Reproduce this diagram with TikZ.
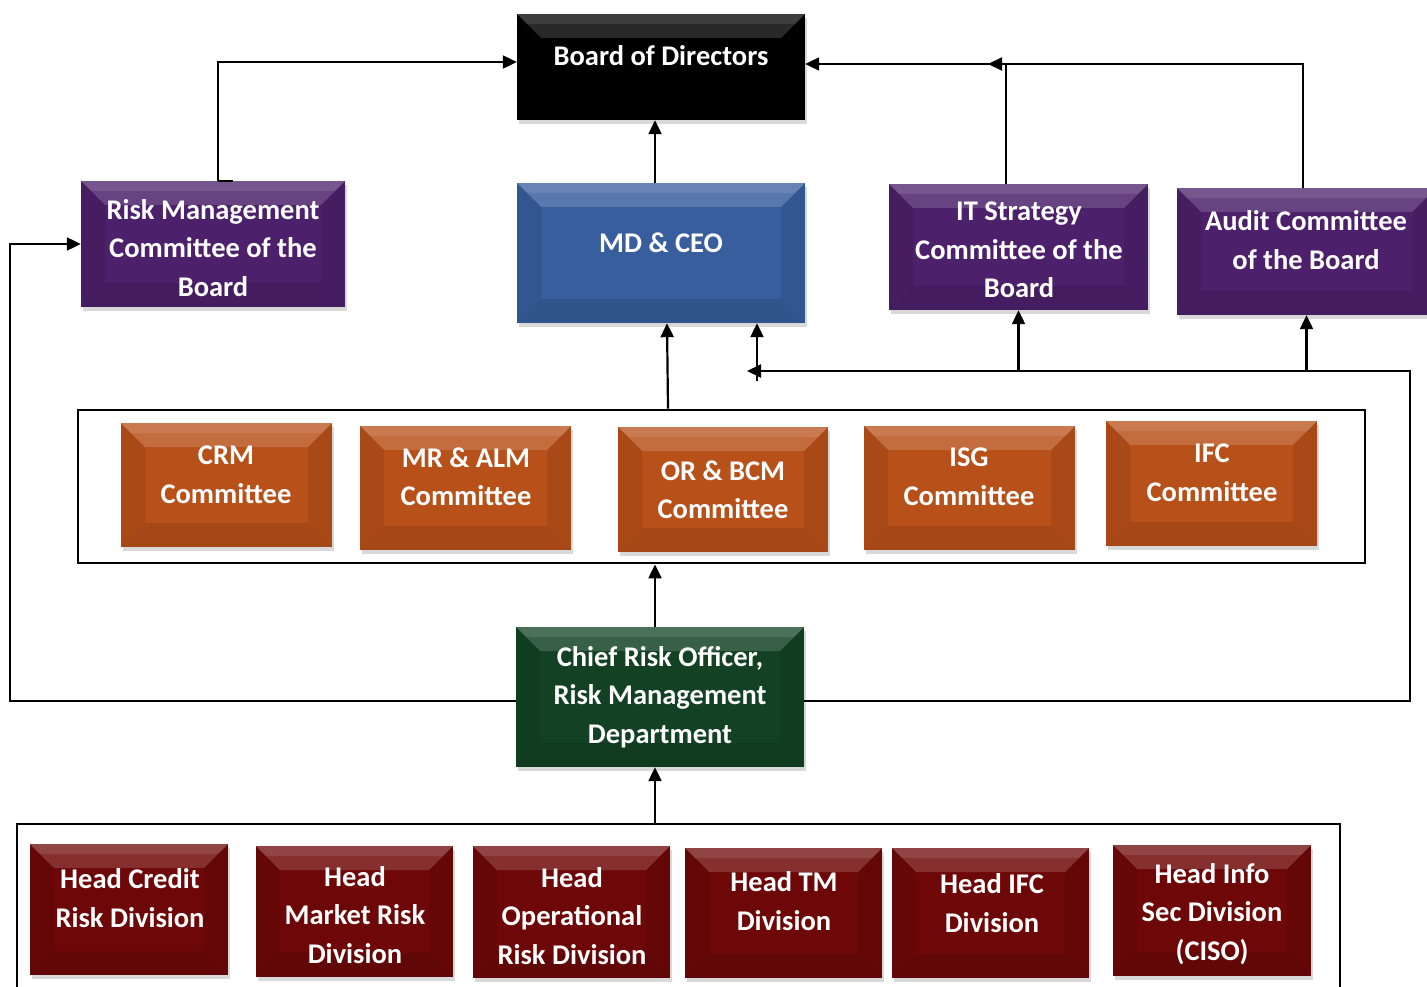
\documentclass[tikz,border=0pt]{standalone}
\usepackage{fontspec}
\setmainfont{Carlito}
\usetikzlibrary{arrows.meta,shadows}
\definecolor{cpurple}{RGB}{76,32,106}
\definecolor{cblue}{RGB}{56,94,158}
\definecolor{corange}{RGB}{184,80,26}
\definecolor{cgreen}{RGB}{18,66,35}
\definecolor{cred}{RGB}{110,8,8}
\definecolor{cblack}{RGB}{0,0,0}
\tikzset{
  bev/.style={draw=none, inner sep=0pt,
    drop shadow={shadow xshift=2pt, shadow yshift=-4pt, opacity=0.3},
    path picture={
      \fill[white,opacity=0.16] (path picture bounding box.north west) -- (path picture bounding box.north east) -- ([shift={(-24pt,-24pt)}]path picture bounding box.north east) -- ([shift={(24pt,-24pt)}]path picture bounding box.north west) -- cycle;
      \fill[white,opacity=0.10] (path picture bounding box.north west) -- (path picture bounding box.north east) -- ([shift={(-10pt,-10pt)}]path picture bounding box.north east) -- ([shift={(10pt,-10pt)}]path picture bounding box.north west) -- cycle;
      \fill[black,opacity=0.10] (path picture bounding box.south west) -- (path picture bounding box.south east) -- ([shift={(-24pt,24pt)}]path picture bounding box.south east) -- ([shift={(24pt,24pt)}]path picture bounding box.south west) -- cycle;
      \fill[black,opacity=0.08] (path picture bounding box.north west) -- ([shift={(24pt,-24pt)}]path picture bounding box.north west) -- ([shift={(24pt,24pt)}]path picture bounding box.south west) -- (path picture bounding box.south west) -- cycle;
      \fill[black,opacity=0.08] (path picture bounding box.north east) -- ([shift={(-24pt,-24pt)}]path picture bounding box.north east) -- ([shift={(-24pt,24pt)}]path picture bounding box.south east) -- (path picture bounding box.south east) -- cycle;
    }},
  lbl/.style={text=white, font=\fontsize{28.5}{38.5}\selectfont\bfseries, align=center, inner sep=0pt},
  conn/.style={line width=2.2pt, -{Triangle[length=14pt,width=13pt]}},
  wire/.style={line width=2.2pt},
  frame/.style={draw, line width=2.8pt, inner sep=0pt}
}
\newcommand\bevbox[6]{%
  \pgfmathsetmacro\bcx{(#2+#4)/2}\pgfmathsetmacro\bcy{(#3+#5)/2}%
  \pgfmathsetmacro\bw{#4-#2}\pgfmathsetmacro\bh{#5-#3}%
  \node[bev, fill=#6, minimum width=\bw pt, minimum height=\bh pt] (#1) at (\bcx,\bcy) {};}
\begin{document}
\begin{tikzpicture}[x=1pt,y=-1pt]
\useasboundingbox (0,0) rectangle (1427,987);
\clip (0,0) rectangle (1427,987);
% frames
\node[frame, minimum width=1287pt, minimum height=153pt] (cframe) at (721.5,486.5) {};
\node[frame, minimum width=1323pt, minimum height=200pt] (bframe) at (678.5,924) {};
% top row
\bevbox{bod}{517}{14}{805}{120}{cblack}
\node[lbl] (bodt) at (661,56) {Board of Directors};
\bevbox{rmc}{81}{181}{345}{307}{cpurple}
\node[lbl] (rmct) at (213,248) {Risk Management\\Committee of the\\Board};
\bevbox{md}{517}{183}{805}{323}{cblue}
\node[lbl] (mdt) at (661,243) {MD \& CEO};
\bevbox{it}{889}{184}{1148}{310}{cpurple}
\node[lbl] (itt) at (1019,250) {IT Strategy\\Committee of the\\Board};
\bevbox{aud}{1177}{188}{1436}{315}{cpurple}
\node[lbl] (audt) at (1306,240) {Audit Committee\\of the Board};
% committees
\bevbox{crm}{121}{423}{332}{547}{corange}
\node[lbl] (crmt) at (226,475) {CRM\\Committee};
\bevbox{mr}{360}{426}{571}{550}{corange}
\node[lbl] (mrt) at (466,477) {MR \& ALM\\Committee};
\bevbox{or}{618}{427}{828}{552}{corange}
\node[lbl] (ort) at (723,490) {OR \& BCM\\Committee};
\bevbox{isg}{864}{426}{1075}{550}{corange}
\node[lbl] (isgt) at (969,477) {ISG\\Committee};
\bevbox{ifc}{1106}{421}{1317}{546}{corange}
\node[lbl] (ifct) at (1212,473) {IFC\\Committee};
% CRO
\bevbox{cro}{516}{627}{804}{767}{cgreen}
\node[lbl] (crot) at (660,697) {Chief Risk Officer,\\Risk Management\\Department};
% heads
\bevbox{hc}{30}{844}{228}{975}{cred}
\node[lbl] (hct) at (130,898) {Head Credit\\Risk Division};
\bevbox{hm}{256}{846}{453}{977}{cred}
\node[lbl] (hmt) at (355,915) {Head\\Market Risk\\Division};
\bevbox{ho}{473}{846}{670}{978}{cred}
\node[lbl] (hot) at (572,916) {Head\\Operational\\Risk Division};
\bevbox{htm}{685}{848}{882}{978}{cred}
\node[lbl] (htmt) at (784,901) {Head TM\\Division};
\bevbox{hifc}{892}{848}{1089}{978}{cred}
\node[lbl] (hifct) at (992,903) {Head IFC\\Division};
\bevbox{his}{1113}{845}{1311}{976}{cred}
\node[lbl] (hist) at (1212,914) {Head Info\\Sec Division\\(CISO)};
% connectors
\coordinate (aj) at (988,64);
\coordinate (rtop) at (1410,371);
\coordinate (mdin) at (747,371);
\coordinate (mdv) at (757,381);
\coordinate (lft) at (10,244);
\draw[conn] ([xshift=5pt]rmc.north) |- ([yshift=5pt]bod.west);
\draw[wire] ([xshift=5pt]rmc.north) -- ([xshift=20pt]rmc.north);
\draw[conn] (md.north -| 655,0) -- (bod.south -| 655,0);
\draw[conn] (it.north -| 1006,0) |- ([yshift=3pt]bod.east);
\draw[conn] (aud.north -| 1303,0) |- (aj);
\draw[conn] (cframe.north -| 668,0) -- (md.south -| 667,0);
\draw[conn] (cro.east |- 0,701) -| (rtop) -- (mdin);
\draw[conn] (it.south |- rtop) -- (it.south);
\draw[conn] (aud.south |- rtop) -- (aud.south);
\draw[conn] (mdv) -- (mdv |- md.south);
\draw[conn] (cro.west |- 0,701) -| (lft) -- (rmc.west);
\draw[conn] (cro.north -| 655,0) -- (cframe.south -| 655,0);
\draw[conn] (bframe.north -| 655,0) -- (cro.south -| 655,0);
\end{tikzpicture}
\end{document}
